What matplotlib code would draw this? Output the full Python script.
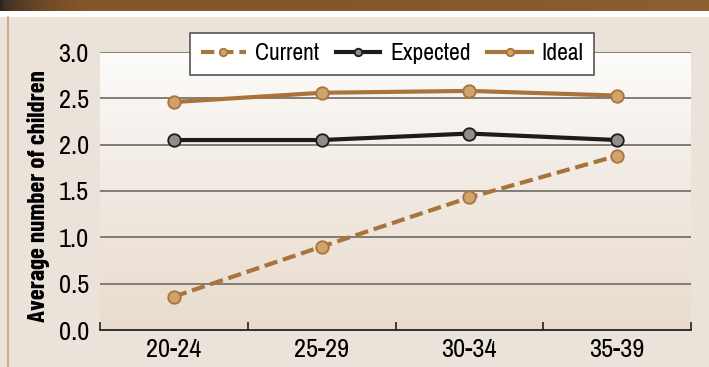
import numpy as np
import matplotlib.pyplot as plt
from matplotlib.colors import LinearSegmentedColormap

plt.rcParams['font.family'] = ['Archivo Narrow', 'Liberation Sans Narrow', 'DejaVu Sans']

# Average number of children by age group
age_groups = ['20-24', '25-29', '30-34', '35-39']
current = [0.36, 0.90, 1.43, 1.88]
expected = [2.05, 2.05, 2.12, 2.05]
ideal = [2.46, 2.56, 2.58, 2.53]

brown = '#a9743c'
page_bg = '#ebe3da'

fig = plt.figure(figsize=(7.09, 3.67), dpi=100, facecolor=page_bg)

# header band along the top
band = fig.add_axes([0, 1 - 11 / 367, 1, 11 / 367])
band_cmap = LinearSegmentedColormap.from_list('band', ['#2a2622', '#84562a', '#84562a', '#8d5e30'])
band.imshow(np.linspace(0, 1, 256)[None, :] ** 0.5, aspect='auto', cmap=band_cmap, extent=[0, 1, 0, 1])
band.axis('off')
fig.patches.append(plt.Rectangle((0, 1 - 17 / 367), 1, 6 / 367, transform=fig.transFigure,
                                 facecolor='white', edgecolor='none'))
fig.lines.append(plt.Line2D([8 / 709, 8 / 709], [0, 1 - 17 / 367], transform=fig.transFigure,
                            color='#c9a27a', lw=1.2))

ax = fig.add_axes([100 / 709, 37 / 367, 591 / 709, 278 / 367])
x = np.arange(len(age_groups))

# vertical gradient behind the plot area
grad_cmap = LinearSegmentedColormap.from_list('bg', ['#fdfcfa', '#f1e9e2', '#e9dccd'])
ax.imshow(np.linspace(0, 1, 256)[:, None], aspect='auto', cmap=grad_cmap,
          extent=[-0.5, 3.5, 0, 3.0], zorder=0)

for yv in [0.5, 1.0, 1.5, 2.0, 2.5, 3.0]:
    ax.axhline(yv, color='#7a746e', lw=1.3, zorder=1)

mk = dict(marker='o', markersize=9, markeredgewidth=1.3)
ax.plot(x, current, color=brown, lw=3, ls=(0, (3.2, 1.4)), markerfacecolor='#d0a26c',
        markeredgecolor='#a9743c', label='Current', zorder=3, **mk)
ax.plot(x, expected, color='#1e1c1a', lw=3, markerfacecolor='#8e8e8e',
        markeredgecolor='#1e1c1a', label='Expected', zorder=3, **mk)
ax.plot(x, ideal, color=brown, lw=3, markerfacecolor='#d0a26c',
        markeredgecolor='#a9743c', label='Ideal', zorder=3, **mk)

ax.set_xlim(-0.5, 3.5)
ax.set_ylim(0, 3.0)
ax.set_yticks([0.0, 0.5, 1.0, 1.5, 2.0, 2.5, 3.0])
ax.set_yticklabels([f'{v:.1f}' for v in [0.0, 0.5, 1.0, 1.5, 2.0, 2.5, 3.0]], fontsize=19)
ax.tick_params(axis='y', length=0, pad=8)
ax.set_xticks(x)
ax.set_xticklabels(age_groups, fontsize=19)
ax.set_xticks([-0.5, 0.5, 1.5, 2.5, 3.5], minor=True)
ax.tick_params(axis='x', which='major', length=0, pad=6)
ax.tick_params(axis='x', which='minor', direction='in', length=6, width=1.2, color='#222')
for side in ['left', 'right', 'top']:
    ax.spines[side].set_visible(False)
ax.spines['bottom'].set_color('#222')
ax.spines['bottom'].set_linewidth(1.3)
ax.set_ylabel('Average number of children', fontsize=18, fontweight='bold', labelpad=6,
              family=['Barlow Condensed', 'DejaVu Sans'])
ax.yaxis.label.set_y(0.48)

leg = ax.legend(loc='center', bbox_to_anchor=(0.494, 0.993), ncol=3, fontsize=17,
                frameon=True, fancybox=False, handlelength=1.9, columnspacing=0.7,
                handletextpad=0.4, borderpad=0.45, borderaxespad=0, markerscale=0.6)
leg.get_frame().set_edgecolor('#555555')
leg.get_frame().set_facecolor('white')
leg.get_frame().set_alpha(1)
leg.get_frame().set_linewidth(1.2)

fig.savefig('out.png', dpi=100, facecolor=page_bg)
